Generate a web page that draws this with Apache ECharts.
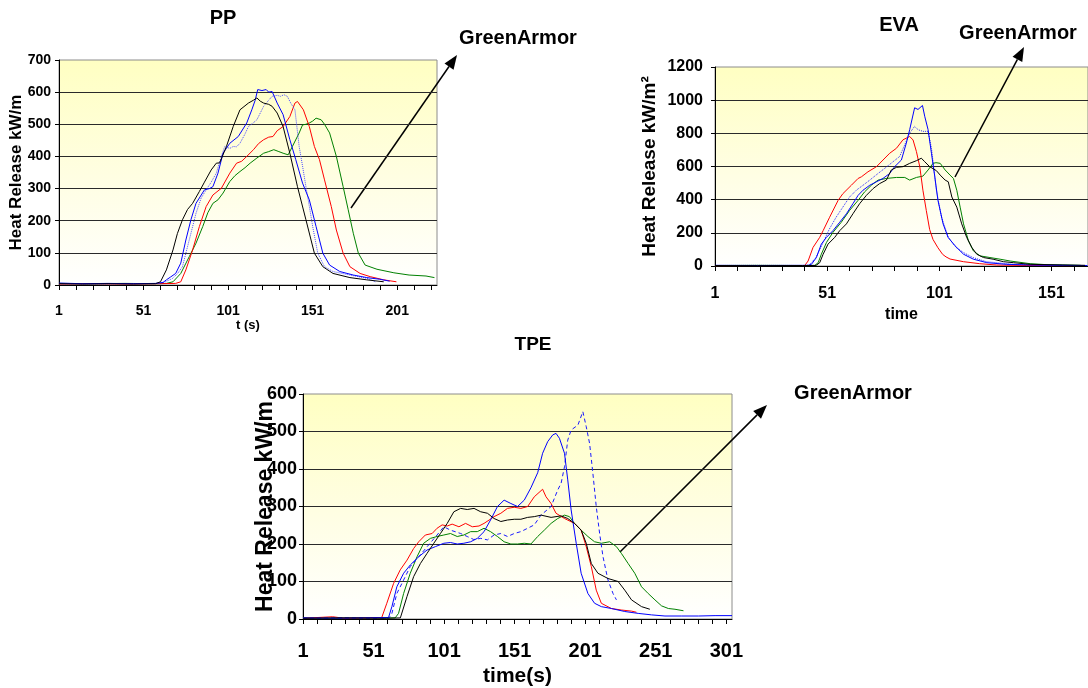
<!DOCTYPE html>
<html>
<head>
<meta charset="utf-8">
<script src="https://cdn.jsdelivr.net/npm/echarts@6/dist/echarts.min.js"></script>
<style>html,body{margin:0;padding:0;background:#fff}#c{width:1088px;height:688px}</style>
</head>
<body>
<div id="c"></div>
<script>
// ---------- DATA (time s, heat release kW/m2) ----------
const ppBlack = [[1,4],[15,3],[30,4],[45,3],[58,4],[61,10],[64.5,47],[68.4,109],[71,160],[74,203],[77,235],[80,254],[84,291],[87,320],[91,358],[94,379],[96,380],[100,431],[104,493],[108,545],[113,566],[116,575],[118,582],[120,572],[122,566],[125,562],[127,556],[130,535],[133.5,493],[137.5,410],[142,306],[147,203],[152,99],[157,57],[163,36],[173,23],[183,16],[193,10]];
const ppBlue = [[1,6],[15,4],[30,5],[45,4],[58,5],[62.5,8],[64.5,16],[67,25],[70,36],[73,68],[76,140],[79,203],[82,254],[87,296],[90,300],[92,306],[95,348],[98,410],[102,441],[107,462],[112,504],[115,545],[117,575],[118.5,608],[121,605],[123.5,608],[125,600],[127,602],[130,566],[133.5,530],[137.5,452],[141,390],[145,317],[149,265],[153,182],[157,99],[161,62],[167,42],[175,31],[183,23],[190.5,18],[196.5,12]];
const ppBlueDot = [[1,4],[20,3],[40,4],[58,4],[63,8],[68,20],[71,35],[74,57],[78,140],[82,223],[85,270],[88,296],[91,320],[94,348],[97,400],[99,431],[102,425],[104,431],[106,430],[108,441],[111,470],[113,493],[116,505],[118,514],[120,535],[122,556],[125,575],[127,587],[130,590],[132,587],[134,592],[136,587],[138,566],[140.5,545],[143,431],[145,370],[147,306],[149,245],[151,182],[154,99],[158,57],[163,42],[173,31],[183,21],[188,10]];
const ppRed = [[1,3],[20,4],[40,3],[60,4],[70,5],[73,10],[76,47],[80,109],[84,182],[88,244],[92,280],[97,301],[102,348],[106,379],[109,385],[112,400],[116,421],[119,440],[122,452],[125,460],[127.5,462],[130,480],[133.5,493],[137.5,524],[140.5,566],[142,571],[145.5,545],[149,493],[152,431],[155,390],[158,327],[162,244],[165,171],[169,99],[173,57],[179,36],[185,26],[193,16],[200.5,10]];
const ppGreen = [[1,5],[20,4],[40,5],[60,4],[64.5,5],[68.4,10],[73,36],[78,88],[82,130],[86,182],[89,225],[92,254],[95,265],[98,286],[102,322],[105,340],[108,353],[111,365],[114,379],[118,395],[122,410],[125,415],[128,421],[131,415],[133.5,410],[136.5,405],[139,431],[143,473],[145,498],[147,500],[149,504],[151,510],[153,519],[156,514],[158,500],[161,473],[165,400],[169,306],[172,234],[175,161],[178,99],[182,62],[189,49],[199,38],[208,31],[218,28],[223,23]];

const evaBlack = [[1,3],[20,2],[40,3],[46,3],[47.7,20],[49.2,71],[51.4,132],[54.4,173],[56.6,213],[59.6,254],[62.5,315],[65.5,376],[68.5,426],[71.5,467],[74.4,497],[77.4,518],[79.6,579],[81.9,595],[84.8,599],[87.8,619],[90.8,635],[93,650],[94.5,629],[96.7,599],[99.7,575],[101.4,548],[103.6,518],[105,508],[106.6,416],[108.8,355],[111,254],[113.2,173],[115.5,112],[117.7,71],[120.7,51],[125,41],[129.6,26],[134,20],[141.5,10],[156,6],[166,4]];
const evaBlue = [[1,4],[20,3],[40,4],[42.5,4],[44,10],[46.2,51],[48.4,132],[50.7,173],[53.6,213],[56.6,264],[59.6,315],[62.5,376],[64.8,426],[67,457],[70,487],[73,508],[75.9,528],[78.9,558],[81.1,599],[84.1,639],[86.3,741],[87.8,822],[90,954],[91.5,944],[93.5,968],[94.5,903],[96,822],[97.5,680],[99,538],[100.4,396],[102.7,254],[104.9,173],[108,122],[111.8,71],[116.2,41],[122.2,20],[131,10],[141.5,6],[156.3,4],[167,3]];
const evaBlueDot = [[1,3],[20,4],[40,3],[43,5],[46,51],[49.2,142],[52,223],[55,294],[58,355],[61,416],[64,457],[67,487],[70,518],[73.7,558],[76.7,589],[80.4,629],[83.3,660],[85.6,731],[87.8,802],[90,842],[91.5,822],[93.7,812],[96,812],[97.5,710],[99.7,457],[102,294],[105,173],[108.5,112],[111.8,81],[116,51],[122,26],[134,10],[150,5],[160,3]];
const evaRed = [[1,2],[20,3],[41,3],[42.5,30],[44.7,112],[47.7,173],[49.2,213],[52.1,294],[55.9,396],[58,436],[61.8,487],[64.8,528],[66.3,538],[69.2,568],[73,599],[75.9,639],[78.9,680],[81.9,710],[84.8,761],[87.8,781],[89.3,760],[90.8,690],[92.3,599],[93.7,457],[95.2,335],[96.7,220],[98.2,160],[100.4,110],[102.5,70],[104,55],[105.8,42],[111.8,26],[119,14],[126.6,6],[140,3],[160,2]];
const evaGreen = [[1,3],[20,4],[40,3],[45.5,4],[47,20],[48.4,71],[50.7,142],[53.6,203],[57.3,264],[61,335],[64.8,396],[67.7,447],[70.7,487],[73.7,518],[77.4,528],[81.9,534],[85.6,534],[87.8,518],[90.8,534],[93.7,542],[96,579],[98.2,619],[99.5,623],[101.4,619],[103.6,579],[105.8,548],[107.3,528],[108.8,457],[110.3,355],[111.8,254],[114,152],[116.2,91],[119.2,61],[123.6,51],[128.1,41],[132.6,30],[141.5,14],[149,8],[164,4]];

const tpeBlack = [[1,2],[30,3],[60,2],[70,3],[71,6],[74.7,60],[79.4,113],[84.2,148],[88.9,175],[93.7,202],[98.4,228],[103.2,255],[107.9,286],[112.7,295],[117.4,292],[122.2,295],[126.9,286],[131.7,282],[136.4,268],[141.2,260],[145.9,264],[150.7,266],[155.4,266],[160.2,271],[164.9,273],[169.7,277],[176.8,271],[183.9,275],[188.6,268],[193.4,255],[198.1,237],[201.7,202],[205.3,148],[210,122],[217.1,108],[224.3,100],[229,77],[233.8,51],[240.9,33],[246.8,26]];
const tpeRed = [[1,2],[22,6],[30,2],[45,3],[56.8,4],[60.4,42],[65.2,95],[69.9,131],[74.7,157],[79.4,188],[83,206],[87.7,224],[92.5,228],[96,242],[99.6,251],[103.2,248],[106.7,253],[111.5,246],[116.2,255],[121,246],[125.7,248],[129.3,255],[132.9,264],[136.4,273],[141.2,282],[145.9,295],[150.7,298],[155.4,295],[160.2,300],[164.9,326],[170.8,346],[173.2,326],[176.8,308],[180.3,282],[186.3,268],[193.4,255],[198.1,237],[201.7,193],[205.3,140],[208.8,77],[212.4,42],[219.5,28],[226.6,24],[233.8,21],[237.3,18]];
const tpeBlue = [[1,3],[20,2],[40,3],[61.6,4],[64,33],[67.5,86],[72.3,122],[77,144],[83,166],[88.9,184],[94.8,193],[100.8,202],[105.5,204],[110.3,200],[115,202],[119.8,206],[124.5,215],[129.3,233],[133.9,264],[138.8,300],[143.5,317],[148.3,308],[153,300],[157.8,317],[162.5,350],[167.3,390],[170.8,442],[174.4,473],[178,491],[180.3,495],[182.7,482],[186.3,442],[188.6,371],[191,291],[194.6,202],[198.1,122],[202.9,68],[207.6,42],[212.4,33],[219.5,28],[229,20],[238.5,15],[248,11],[257.5,8],[269.4,8],[281.3,8],[293,9],[305,9]];
const tpeBlueDash = [[1,2],[30,3],[50,2],[62,3],[64,15],[67.5,68],[72.3,104],[77,140],[83,166],[89,193],[96,224],[100.8,246],[105.5,237],[112.7,228],[117.4,220],[122,212],[126.9,215],[131.7,211],[136.4,224],[141.2,228],[145.9,220],[150.7,228],[155.4,233],[160.2,242],[164.9,251],[169.6,277],[176.8,300],[181.5,344],[183.9,362],[186.3,406],[188.6,477],[191,504],[195.8,517],[199.3,553],[201.7,513],[204.1,468],[206.4,389],[208.8,300],[211.2,228],[213.6,166],[217.1,104],[220.7,68],[223.1,51]];
const tpeGreen = [[1,3],[30,2],[50,3],[66.3,3],[68.7,15],[72.3,68],[77,122],[81.8,166],[86.5,202],[91.3,215],[96,220],[100.8,224],[105.5,228],[110.3,220],[115,224],[119.8,233],[124.5,233],[129.3,242],[133.9,233],[138.8,220],[143.5,206],[148.3,200],[153,200],[157.8,202],[162.5,200],[167.3,220],[172,237],[176.8,255],[181.5,268],[186.3,277],[189.8,273],[193.4,255],[198.1,237],[202.9,220],[207.6,206],[212.4,202],[218.3,206],[223.1,193],[226.6,175],[231.4,148],[236.1,122],[240.9,86],[245.6,68],[250.4,51],[255.1,35],[259.9,28],[264.6,26],[270.6,22]];

const titles = ['PP', 'EVA', 'TPE'];
const xNames = ['t (s)', 'time', 'time(s)'];
const yName = 'Heat Release kW/m';
const yNameEva = 'Heat Release kW/m\u00b2';
const xMax = [224.5, 167.3, 305];
const yMax = [700, 1200, 600];
const yStep = [100, 200, 100];
const annotation = 'GreenArmor';

// ---------- STYLE ----------
const FONT = "'Liberation Sans', Arial, sans-serif";
const bg = {type:'linear', x:0, y:0, x2:0, y2:1, colorStops:[{offset:0,color:'#ffffc2'},{offset:0.55,color:'#fffee4'},{offset:1,color:'#ffffff'}]};

function grid(l,t,w,h){return {left:l, top:t, width:w, height:h, show:true, backgroundColor:bg, borderColor:'#8c8c8c', borderWidth:1, containLabel:false};}
function xAx(i, fs, margin, nameGap, nameFs){
  return {type:'value', gridIndex:i, min:1, max:xMax[i], interval:10,
    name:xNames[i], nameLocation:'middle', nameGap:nameGap, nameMoveOverlap:false,
    nameTextStyle:{fontFamily:FONT, fontWeight:'bold', fontSize:nameFs, color:'#000'},
    axisLine:{show:true, lineStyle:{color:'#000', width:1}},
    axisTick:{show:true, length:5, lineStyle:{color:'#000'}},
    splitLine:{show:false},
    axisLabel:{margin:margin, fontFamily:FONT, fontWeight:'bold', fontSize:fs, color:'#000', showMaxLabel:false,
      formatter:function(v){return ((Math.round(v)-1)%50===0 && Math.abs(v-Math.round(v))<1e-6) ? String(Math.round(v)) : '';}}
  };
}
function yAx(i, name, fs, margin, nameGap, nameFs){
  return {type:'value', gridIndex:i, min:0, max:yMax[i], interval:yStep[i],
    name:name, nameLocation:'middle', nameGap:nameGap, nameRotate:90, nameMoveOverlap:false,
    nameTextStyle:{fontFamily:FONT, fontWeight:'bold', fontSize:nameFs, color:'#000'},
    axisLine:{show:true, lineStyle:{color:'#000', width:1}},
    axisTick:{show:true, length:4, lineStyle:{color:'#000'}},
    splitLine:{show:true, showMaxLine:false, lineStyle:{color:'#2a2a2a', width:1}},
    axisLabel:{margin:margin, fontFamily:FONT, fontWeight:'bold', fontSize:fs, color:'#000',
      formatter:function(v){return String(v);}}
  };
}
function ln(i, data, color, type){
  return {type:'line', xAxisIndex:i, yAxisIndex:i, data:data, showSymbol:false, symbol:'none',
    lineStyle:{color:color, width:1, type:type||'solid'}, itemStyle:{color:color}, silent:true};
}
function arrow(x1,y1,x2,y2){
  const a = Math.atan2(y2-y1, x2-x1), L = 14, W = 5.5;
  const bx = x2 - L*Math.cos(a), by = y2 - L*Math.sin(a);
  return [
    {type:'line', shape:{x1:x1,y1:y1,x2:bx,y2:by}, style:{stroke:'#000', lineWidth:1.5}},
    {type:'polygon', shape:{points:[[x2,y2],[bx+W*Math.sin(a), by-W*Math.cos(a)],[bx-W*Math.sin(a), by+W*Math.cos(a)]]}, style:{fill:'#000'}}
  ];
}
function label(x,y){
  return {type:'text', x:x, y:y, style:{text:annotation, fontFamily:FONT, fontWeight:'bold', fontSize:20, fill:'#000', align:'center', verticalAlign:'middle', textAlign:'center', textVerticalAlign:'middle'}};
}
function ttl(text,x,y,fs){
  return {text:text, left:x, top:y, textAlign:'center', padding:0, textStyle:{fontFamily:FONT, fontWeight:'bold', fontSize:fs, color:'#000'}};
}

const option = {
  animation:false,
  backgroundColor:'#fff',
  title:[ttl(titles[0],223,8,20), ttl(titles[1],899,15,20), ttl(titles[2],533,335,19)],
  grid:[grid(59,60,378,225), grid(715,67,373,199), grid(303,394,429,225)],
  xAxis:[xAx(0,14,19,34,13), xAx(1,16,20,41,16), xAx(2,20,22,47,21)],
  yAxis:[yAx(0,yName,14,8,34,17), yAx(1,yNameEva,16,12,56,19), yAx(2,yName,18,6,26,23)],
  series:[
    ln(0,ppGreen,'#008000'), ln(0,ppRed,'#ff0000'), ln(0,ppBlueDot,'#4a4aff','dotted'), ln(0,ppBlue,'#0000ff'), ln(0,ppBlack,'#000000'),
    ln(1,evaGreen,'#008000'), ln(1,evaRed,'#ff0000'), ln(1,evaBlueDot,'#2a2aff','dotted'), ln(1,evaBlue,'#0000ff'), ln(1,evaBlack,'#000000'),
    ln(2,tpeGreen,'#008000'), ln(2,tpeRed,'#ff0000'), ln(2,tpeBlueDash,'#1a1aff',[4,3]), ln(2,tpeBlue,'#0000ff'), ln(2,tpeBlack,'#000000')
  ],
  graphic:[].concat(
    arrow(351,208,457,55), arrow(955,177,1024,47), arrow(620,552,767,405),
    [label(518,38), label(1018,33), label(853,393)]
  )
};
const chart = echarts.init(document.getElementById('c'), null, {renderer:'canvas'});
chart.setOption(option);
</script>
</body>
</html>
